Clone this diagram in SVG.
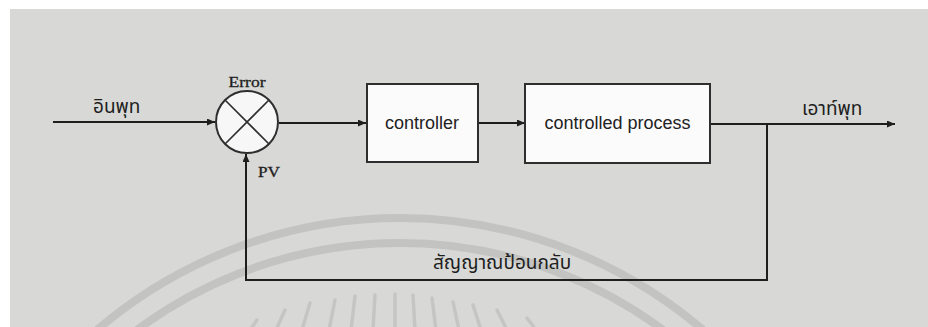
<svg xmlns="http://www.w3.org/2000/svg" width="928" height="327" viewBox="0 0 928 327">
<style>
.ln{fill:none;stroke:#1e1e1e;stroke-width:2}
.box{fill:#fbfbfb;stroke:#2e2e2e;stroke-width:2}
.wm{fill:none;stroke:#c3c4c2;stroke-width:8}
.ray{stroke:#c5c6c4;stroke-width:3.5;stroke-linecap:round}
.en{font-family:"Liberation Sans",Arial,sans-serif;font-size:18px;fill:#222}
.sf{font-family:"Liberation Serif","Times New Roman",serif;font-size:15px;fill:#1e1e1e;stroke:#1e1e1e;stroke-width:0.3}
.th{font-family:"Noto Sans Thai","Noto Sans","DejaVu Sans",sans-serif;font-size:19px;fill:#1e1e1e}
</style>
<defs>
<marker id="arr" markerWidth="9" markerHeight="8" refX="8" refY="3.5" orient="auto" markerUnits="userSpaceOnUse">
<path d="M0,0 L8,3.5 L0,7 z" fill="#1e1e1e"/>
</marker>
</defs>
<rect width="928" height="327" fill="#ffffff"/>
<rect x="10" y="9" width="918" height="318" fill="#d8d9d7"/>
<g id="watermark">
<circle class="wm" cx="400" cy="684" r="466"/>
<circle class="wm" cx="400" cy="684" r="441"/>
<line class="ray" x1="257" y1="320" x2="250" y2="330"/>
<line class="ray" x1="285" y1="310" x2="276" y2="330"/>
<line class="ray" x1="310" y1="303" x2="302" y2="330"/>
<line class="ray" x1="335" y1="300" x2="329" y2="330"/>
<line class="ray" x1="355" y1="296" x2="351" y2="330"/>
<line class="ray" x1="375" y1="295" x2="373" y2="330"/>
<line class="ray" x1="395" y1="294" x2="395" y2="330"/>
<line class="ray" x1="413" y1="295" x2="415" y2="330"/>
<line class="ray" x1="432" y1="298" x2="436" y2="330"/>
<line class="ray" x1="453" y1="302" x2="459" y2="330"/>
<line class="ray" x1="473" y1="305" x2="481" y2="330"/>
<line class="ray" x1="497" y1="310" x2="507" y2="330"/>
<line class="ray" x1="527" y1="318" x2="536" y2="330"/>
</g>
<g id="connectors">
<path class="ln" d="M53,122 H215" marker-end="url(#arr)"/>
<path class="ln" d="M279,123 H366" marker-end="url(#arr)"/>
<path class="ln" d="M478,123 H525" marker-end="url(#arr)"/>
<path class="ln" d="M710,124 H895" marker-end="url(#arr)"/>
<path class="ln" d="M767,124 V280 H246 V154" marker-end="url(#arr)"/>
</g>
<g id="summing">
<circle cx="247" cy="122" r="31" fill="#f7f7f7" stroke="#2e2e2e" stroke-width="2"/>
<path d="M225,100 L269,144 M269,100 L225,144" stroke="#2e2e2e" stroke-width="1.6"/>
<text class="sf" x="247" y="87" text-anchor="middle" textLength="37" lengthAdjust="spacingAndGlyphs">Error</text>
<text class="sf" x="258" y="177" textLength="22" lengthAdjust="spacingAndGlyphs">PV</text>
</g>
<g id="controller">
<rect class="box" x="367" y="84" width="111" height="78"/>
<text class="en" x="422" y="129" text-anchor="middle">controller</text>
</g>
<g id="process">
<rect class="box" x="525" y="84" width="185" height="79"/>
<text class="en" x="617.5" y="129" text-anchor="middle">controlled process</text>
</g>
<g id="labels">
<text class="th" x="93" y="113">อินพุท</text>
<text class="th" x="802" y="115">เอาท์พุท</text>
<text class="th" x="433" y="269">สัญญาณป้อนกลับ</text>
</g>
</svg>
